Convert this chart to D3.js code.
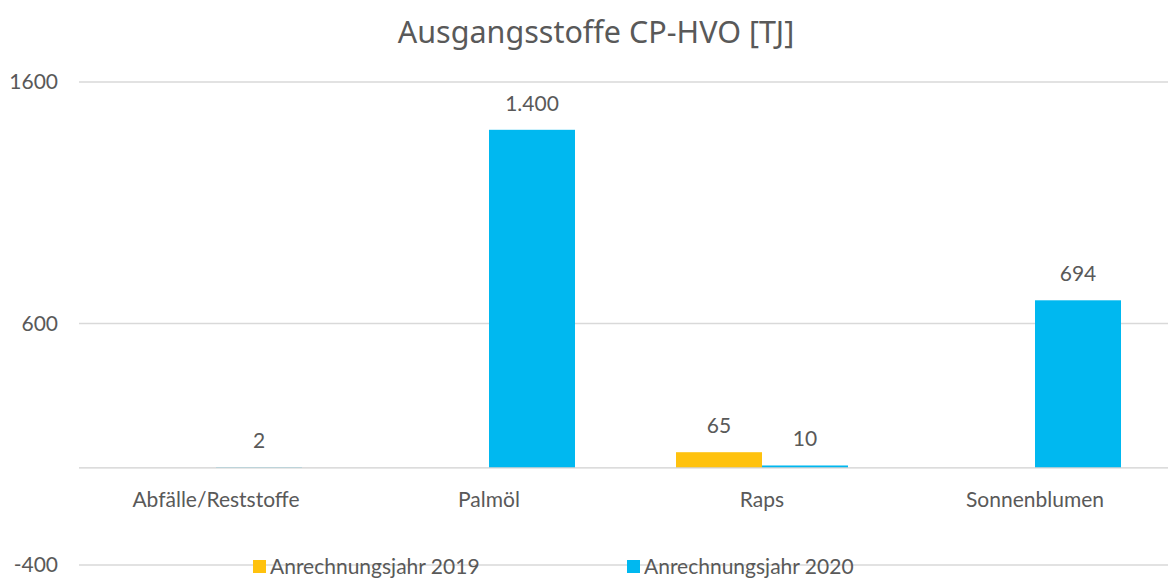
<!DOCTYPE html>
<html><head><meta charset="utf-8">
<script src="https://cdn.jsdelivr.net/npm/d3@7"></script>
<style>body{margin:0;background:#fff}text{font-family:Lato,"Open Sans",sans-serif;fill:#595959}</style>
</head><body><svg id="c" width="1168" height="579"></svg>
<script>
const categories = ["Abfälle/Reststoffe","Palmöl","Raps","Sonnenblumen"];
const series = ["Anrechnungsjahr 2019","Anrechnungsjahr 2020"];
const values2019 = [null, null, 65, null];
const values2020 = [2, 1400, 10, 694];
const yTicks = [-400, 600, 1600];
const colors = ["#FFC20E","#00B8F0"];

const svg = d3.select("#c");
const x0 = 79, x1 = 1168;
const FS = "21px";
const y = d3.scaleLinear().domain([-400,1600]).range([564.5,81.5]);
const x = d3.scaleBand().domain(categories).range([79.5,1171.5]).paddingInner(0).paddingOuter(0);
const bw = 86;

svg.append("text").attr("x",596).attr("y",43).attr("text-anchor","middle")
  .style("font-size","30.5px").style("font-family","'Noto Sans',Lato,sans-serif").text("Ausgangsstoffe CP-HVO [TJ]");

const yAxis = d3.axisLeft(y).tickValues(yTicks).tickSize(-(x1-x0)).tickFormat(d => String(d));
const ga = svg.append("g").attr("transform",`translate(${x0},0)`).call(yAxis);
ga.select(".domain").remove();
ga.selectAll(".tick line").attr("stroke","#d9d9d9").attr("stroke-width",1.3);
ga.selectAll(".tick text").attr("x",-21).attr("dy","0.35em").style("font-size",FS).attr("fill","#595959");

const data = [values2019, values2020];
const fmt = v => d3.format(",")(v).replace(/,/g,".");
data.forEach((vals,si)=>{
  categories.forEach((c,i)=>{
    const v = vals[i];
    if(v==null) return;
    const cx = x(c)+x.bandwidth()/2;
    const bx = si===0 ? cx-bw : cx;
    svg.append("rect").attr("x",bx).attr("width",bw)
      .attr("y",y(Math.max(0,v))).attr("height",Math.abs(y(v)-y(0))).attr("fill",colors[si]);
    svg.append("text").attr("x",bx+bw/2).attr("y",y(v)-19).attr("text-anchor","middle")
      .style("font-size",FS).text(fmt(v));
  });
});

svg.append("line").attr("x1",x0).attr("x2",x1).attr("y1",y(0)).attr("y2",y(0)).attr("stroke","#d0d0d0").attr("stroke-width",1.3);

const xAxis = d3.axisBottom(x).tickSize(0);
const gx = svg.append("g").attr("transform",`translate(0,${y(0)})`).call(xAxis);
gx.select(".domain").remove();
gx.selectAll(".tick text").attr("y",39).attr("dy","0").style("font-size",FS).attr("fill","#595959");

const legX = [253, 627];
series.forEach((s,i)=>{
  const g = svg.append("g").attr("transform",`translate(${legX[i]},0)`);
  g.append("rect").attr("x",0).attr("y",560).attr("width",13).attr("height",13).attr("fill",colors[i]);
  g.append("text").attr("x",17).attr("y",574).style("font-size",FS).text(s);
});
</script></body></html>
